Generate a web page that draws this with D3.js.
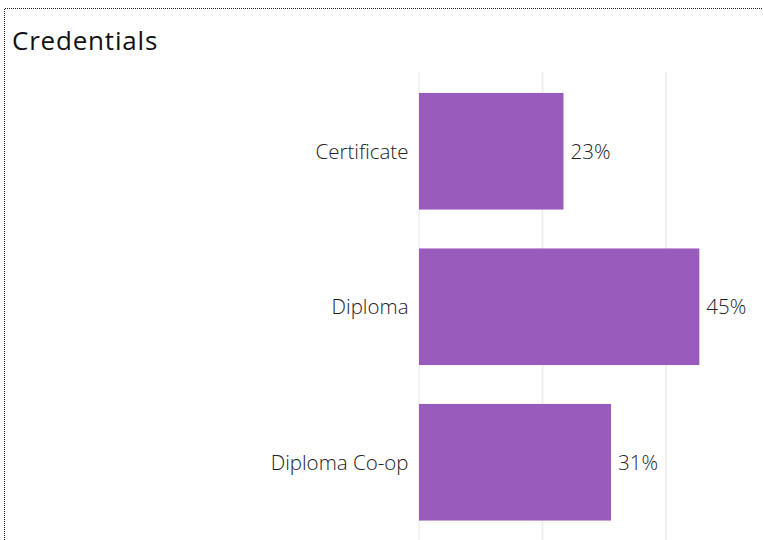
<!DOCTYPE html>
<html><head><meta charset="utf-8">
<script src="https://cdn.jsdelivr.net/npm/d3@7"></script>
<style>
html,body{margin:0;padding:0;background:#fff;}
svg{display:block;}
</style></head>
<body>
<svg id="chart" width="763" height="540"></svg>
<script>
const categories = ["Certificate", "Diploma", "Diploma Co-op"];
const values = [0.234, 0.454, 0.311];
const gridTicks = [0, 0.2, 0.4];
const title = "Credentials";

const W = 763, H = 540;
const svg = d3.select("#chart");
const font = "'Open Sans', 'Noto Sans', sans-serif";

// dotted border
svg.append("path")
  .attr("d", `M4.5,${H} V8.5 H${W}`)
  .attr("fill", "none").attr("stroke", "#222").attr("stroke-width", 1)
  .attr("stroke-dasharray", "1,1");

svg.append("text").attr("x", 12).attr("y", 50)
  .attr("font-family", font).attr("font-size", 26).attr("letter-spacing", 0.8)
  .attr("fill", "#111")
  .text(title);

const x = d3.scaleLinear().domain([0, 0.2]).range([419, 542.5]);
const y = d3.scaleBand().domain(categories).range([73.5, 540]).paddingInner(0.25).paddingOuter(0.125);

// gridlines
svg.append("g").selectAll("line").data(gridTicks).join("line")
  .attr("x1", d => x(d)).attr("x2", d => x(d))
  .attr("y1", 72).attr("y2", H)
  .attr("stroke", d => d === 0 ? "#e8e8e8" : "#efefef")
  .attr("stroke-width", d => d === 0 ? 1 : 2);

svg.append("g").selectAll("rect").data(values).join("rect")
  .attr("x", x(0))
  .attr("y", (d, i) => y(categories[i]))
  .attr("width", d => x(d) - x(0))
  .attr("height", y.bandwidth())
  .attr("fill", "#9a5cbc");

svg.append("g").selectAll("text").data(values).join("text")
  .attr("x", d => x(d) + 7)
  .attr("y", (d, i) => y(categories[i]) + y.bandwidth() / 2)
  .attr("dy", "0.36em")
  .attr("font-family", font).attr("font-size", 20.5).attr("font-weight", 300).attr("fill", "#222")
  .text(d => d3.format(".0%")(d));

svg.append("g").selectAll("text").data(categories).join("text")
  .attr("x", 408.5)
  .attr("y", d => y(d) + y.bandwidth() / 2)
  .attr("dy", "0.36em")
  .attr("text-anchor", "end")
  .attr("font-family", font).attr("font-size", 20.5).attr("font-weight", 300).attr("fill", "#222")
  .text(d => d);
</script>
</body></html>
